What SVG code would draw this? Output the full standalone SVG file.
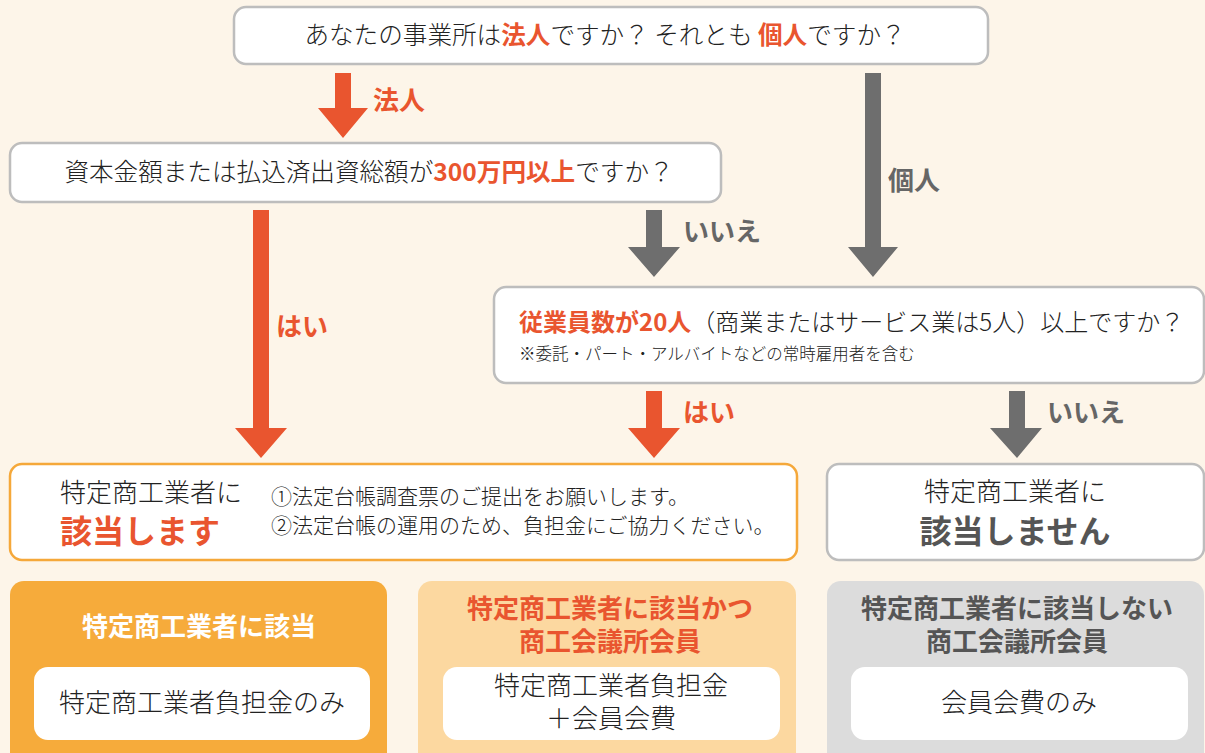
<svg xmlns="http://www.w3.org/2000/svg" width="1205" height="753" viewBox="0 0 1205 753">
<style>
text{font-family:"Noto Sans CJK JP","Noto Sans",sans-serif;font-weight:300;}
.q{fill:#fff;stroke:#bdbdbd;stroke-width:2.5;}
.t{fill:#222;font-size:24.6px;}
.c{text-anchor:middle;}
.red{fill:#e9552f;font-weight:700;}
.gl{fill:#666;font-weight:700;font-size:26px;}
.rl{fill:#e9552f;font-weight:700;font-size:26px;}
.ar{fill:#e9552f;}
.ag{fill:#6e6e6e;}
.inner{fill:#fff;}
.b{font-weight:700;}
</style>
<rect width="1205" height="753" fill="#fdf5e9"/>
<g id="connectors">
<polygon class="ar" points="335,73 351,73 351,108 368,108 343,138 318,108 335,108"/>
<text class="rl" x="373" y="110">法人</text>
<polygon class="ag" points="865,73 881,73 881,247 898,247 873,277 848,247 865,247"/>
<text class="gl" x="888" y="190">個人</text>
<polygon class="ag" points="646,210 662,210 662,247 680,247 654,277 628,247 646,247"/>
<text class="gl" x="683" y="241">いいえ</text>
<polygon class="ar" points="253,210 269,210 269,428 287,428 261,458 235,428 253,428"/>
<text class="rl" x="276" y="336">はい</text>
<polygon class="ar" points="646,391 662,391 662,428 680,428 654,458 628,428 646,428"/>
<text class="rl" x="683" y="422">はい</text>
<polygon class="ag" points="1009,391 1025,391 1025,428 1042,428 1017,458 990,428 1009,428"/>
<text class="gl" x="1047" y="422">いいえ</text>
</g>
<g id="q1">
<rect class="q" x="234" y="7" width="754" height="57" rx="12"/>
<text class="t c" x="605" y="44">あなたの事業所は<tspan class="red">法人</tspan>ですか？ それとも <tspan class="red">個人</tspan>ですか？</text>
</g>
<g id="q2">
<rect class="q" x="10" y="143" width="711" height="59" rx="12"/>
<text class="t c" x="369" y="181">資本金額または払込済出資総額が<tspan class="red">300万円以上</tspan>ですか？</text>
</g>
<g id="q3">
<rect class="q" x="494" y="287" width="710" height="96" rx="12"/>
<text class="t" x="519" y="331" style="font-size:24px"><tspan class="red">従業員数が20人</tspan>（商業またはサービス業は5人）以上ですか？</text>
<text x="519" y="360" style="font-size:16.5px;fill:#222">※委託・パート・アルバイトなどの常時雇用者を含む</text>
</g>
<g id="yes">
<rect x="10" y="464" width="787" height="96" rx="12" fill="#fff" stroke="#f5a83a" stroke-width="2.5"/>
<text x="60" y="502" style="font-size:26px;fill:#222">特定商工業者に</text>
<text class="b" x="60" y="543" style="font-size:32px;fill:#e9552f">該当します</text>
<text x="271" y="504" style="font-size:21px;fill:#222">①法定台帳調査票のご提出をお願いします。</text>
<text x="271" y="533" style="font-size:21px;fill:#222">②法定台帳の運用のため、負担金にご協力ください。</text>
</g>
<g id="no">
<rect class="q" x="827" y="464" width="377" height="96" rx="12"/>
<text class="c" x="1015" y="501" style="font-size:26px;fill:#222">特定商工業者に</text>
<text class="c b" x="1015" y="543" style="font-size:32px;fill:#555">該当しません</text>
</g>
<g id="catA">
<rect x="10" y="581" width="377" height="186" rx="14" fill="#f6ab3b"/>
<text class="c b" x="199" y="636" style="font-size:26px;fill:#fff">特定商工業者に該当</text>
<rect class="inner" x="34" y="667" width="336" height="73" rx="14"/>
<text class="c" x="202" y="712" style="font-size:26px;fill:#222">特定商工業者負担金のみ</text>
</g>
<g id="catB">
<rect x="418" y="581" width="378" height="186" rx="14" fill="#fcd8a0"/>
<text class="c b" x="610" y="618" style="font-size:26px;fill:#e9552f">特定商工業者に該当かつ</text>
<text class="c b" x="610" y="651" style="font-size:26px;fill:#e9552f">商工会議所会員</text>
<rect class="inner" x="443" y="667" width="337" height="73" rx="14"/>
<text class="c" x="611" y="695" style="font-size:26px;fill:#222">特定商工業者負担金</text>
<text class="c" x="611" y="728" style="font-size:26px;fill:#222">＋会員会費</text>
</g>
<g id="catC">
<rect x="827" y="581" width="377" height="186" rx="14" fill="#dcdcdc"/>
<text class="c b" x="1017" y="618" style="font-size:26px;fill:#555">特定商工業者に該当しない</text>
<text class="c b" x="1017" y="651" style="font-size:26px;fill:#555">商工会議所会員</text>
<rect class="inner" x="851" y="667" width="337" height="73" rx="14"/>
<text class="c" x="1019" y="712" style="font-size:26px;fill:#222">会員会費のみ</text>
</g>
</svg>
